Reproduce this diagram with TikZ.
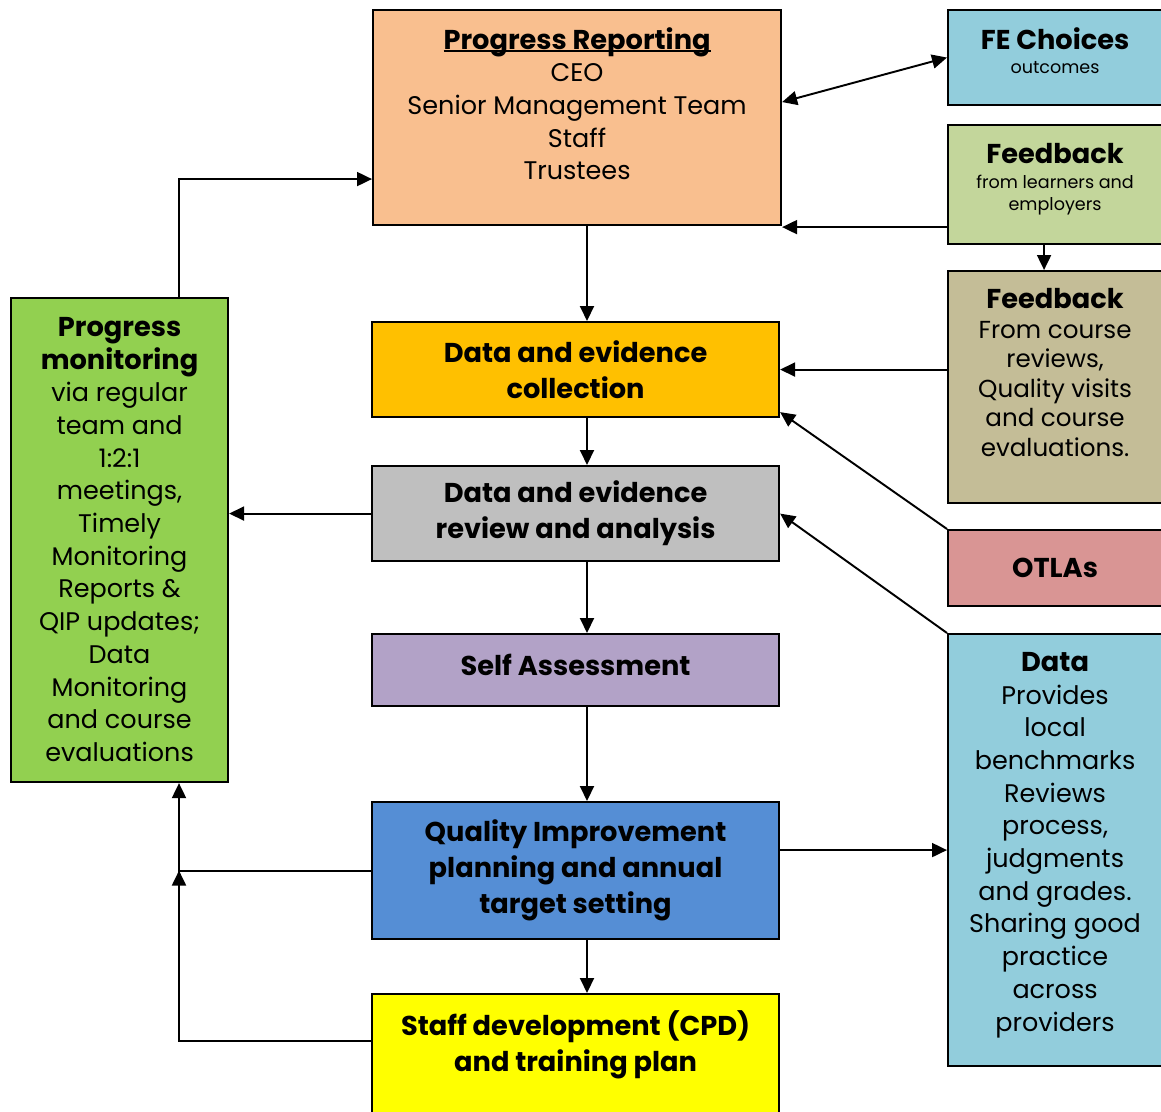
\documentclass[tikz,border=0pt]{standalone}
\usepackage{fontspec}
\setmainfont{Poppins}
\usetikzlibrary{positioning,arrows.meta}

\definecolor{prfill}{HTML}{F9BF8F}
\definecolor{fefill}{HTML}{92CDDC}
\definecolor{fbafill}{HTML}{C3D69B}
\definecolor{fbbfill}{HTML}{C4BD97}
\definecolor{otlafill}{HTML}{D99594}
\definecolor{pmfill}{HTML}{92D050}
\definecolor{decfill}{HTML}{FFC000}
\definecolor{derfill}{HTML}{BFBFBF}
\definecolor{safill}{HTML}{B2A2C7}
\definecolor{qifill}{HTML}{558ED5}
\definecolor{sdfill}{HTML}{FFFF00}

\newcommand{\body}{\fontsize{14.5}{18.6}\selectfont}
\newcommand{\bodysm}{\fontsize{14}{16.8}\selectfont}
\newcommand{\head}{\fontsize{15.5}{20.4}\selectfont\bfseries}
\newcommand{\smalltxt}{\fontsize{10}{13}\selectfont}
\newsavebox{\ulbox}
\newcommand{\ulheading}[1]{\sbox{\ulbox}{#1}\leavevmode\rlap{\rule[-1.8pt]{\wd\ulbox}{1.2pt}}\usebox{\ulbox}}

\begin{document}
\begin{tikzpicture}[
    box/.style={draw=black, line width=1.2pt, fill=#1, anchor=north west, inner sep=0pt},
    txt/.style={align=center, inner sep=0pt, anchor=north},
    arr/.style={line width=1.1pt, -{Triangle[length=0.3cm,width=0.28cm]}},
    dblarr/.style={line width=1.1pt, {Triangle[length=0.3cm,width=0.28cm]}-{Triangle[length=0.3cm,width=0.28cm]}}
  ]
  \useasboundingbox (0,0) rectangle (23.22,-22.22);

  % boxes
  \node[box=prfill, minimum width=8.16cm, minimum height=4.30cm] (pr) at (7.44,-0.18) {};
  \node[box=fefill, minimum width=4.28cm, minimum height=1.90cm] (fe) at (18.94,-0.18) {};
  \node[box=fbafill, minimum width=4.28cm, minimum height=2.38cm] (fba) at (18.94,-2.48) {};
  \node[box=fbbfill, minimum width=4.28cm, minimum height=4.64cm] (fbb) at (18.94,-5.40) {};
  \node[box=otlafill, minimum width=4.28cm, minimum height=1.52cm] (otla) at (18.94,-10.58) {};
  \node[box=fefill, minimum width=4.28cm, minimum height=8.64cm] (data) at (18.94,-12.66) {};
  \node[box=pmfill, minimum width=4.34cm, minimum height=9.68cm] (pm) at (0.20,-5.94) {};
  \node[box=decfill, minimum width=8.14cm, minimum height=1.90cm] (dec) at (7.42,-6.42) {};
  \node[box=derfill, minimum width=8.14cm, minimum height=1.90cm] (der) at (7.42,-9.30) {};
  \node[box=safill, minimum width=8.14cm, minimum height=1.44cm] (sa) at (7.42,-12.66) {};
  \node[box=qifill, minimum width=8.14cm, minimum height=2.74cm] (qi) at (7.42,-16.02) {};
  \node[box=sdfill, minimum width=8.14cm, minimum height=2.60cm] (sd) at (7.42,-19.86) {};

  % texts
  \node[txt, font=\body, below=0.36cm of pr.north] (prtext) {{\head\ulheading{Progress Reporting}}\\ CEO\\ Senior Management Team\\ Staff\\ Trustees};
  \node[txt, font=\smalltxt, below=0.36cm of fe.north] (fetext) {{\head FE Choices}\\[1pt] outcomes};
  \node[txt, font=\smalltxt, below=0.38cm of fba.north] (fbatext) {{\head Feedback}\\[1pt] from learners and\\ employers};
  \node[txt, font=\bodysm, below=0.36cm of fbb.north] (fbbtext) {{\head Feedback}\\ From course\\ reviews,\\ Quality visits\\ and course\\ evaluations.};
  \node[txt, font=\head, anchor=center] (otlatext) at (otla.center) {OTLAs};
  \node[txt, font=\body, below=0.38cm of data.north] (datatext) {{\head Data}\\ Provides\\ local\\ benchmarks\\ Reviews\\ process,\\ judgments\\ and grades.\\ Sharing good\\ practice\\ across\\ providers};
  \node[txt, font=\body, below=0.40cm of pm.north] (pmtext) {{\head Progress}\\ {\head monitoring}\\ via regular\\ team and\\ 1:2:1\\ meetings,\\ Timely\\ Monitoring\\ Reports \&\\ QIP updates;\\ Data\\ Monitoring\\ and course\\ evaluations};
  \node[txt, font=\head, anchor=center] (dectext) at (dec.center) {Data and evidence\\ collection};
  \node[txt, font=\head, anchor=center] (dertext) at (der.center) {Data and evidence\\ review and analysis};
  \node[txt, font=\head, anchor=center, yshift=0.1cm] (satext) at (sa.center) {Self Assessment};
  \node[txt, font=\head, anchor=center] (qitext) at (qi.center) {Quality Improvement\\ planning and annual\\ target setting};
  \node[txt, font=\head, below=0.34cm of sd.north] (sdtext) {Staff development (CPD)\\ and training plan};

  % connectors
  \coordinate (spine) at (11.74,0);
  \coordinate (leftbus) at (3.58,0);
  \coordinate (qijoin) at (leftbus |- qi.west);
  \draw[arr] (pr.south -| spine) -- (dec.north -| spine);
  \draw[arr] (dec.south -| spine) -- (der.north -| spine);
  \draw[arr] (der.south -| spine) -- (sa.north -| spine);
  \draw[arr] (sa.south -| spine) -- (qi.north -| spine);
  \draw[arr] (qi.south -| spine) -- (sd.north -| spine);
  \draw[arr] (der.west) -- (der.west -| pm.east);
  \draw[arr] (leftbus |- pm.north) |- ([yshift=-1.23cm]pr.west);
  \draw[arr] (qi.west) -- (qijoin) -- (leftbus |- pm.south);
  \draw[arr] ([yshift=-0.96cm]sd.north west) -| (qijoin);
  \draw[arr] (data.west -| qi.east) -- (data.west);
  \draw[dblarr] (fe.west) -- ([yshift=0.31cm]pr.east);
  \draw[arr] ([yshift=0.36cm]fba.south west) -- ([yshift=0.36cm]fba.south west -| pr.east);
  \draw[arr] ([xshift=-0.22cm]fba.south) -- ([xshift=-0.22cm]fbb.north);
  \draw[arr] (fbb.west |- dec.east) -- (dec.east);
  \draw[arr] (otla.north west) -- ([yshift=0.12cm]dec.south east);
  \draw[arr] (data.north west) -- (der.east);
\end{tikzpicture}
\end{document}
